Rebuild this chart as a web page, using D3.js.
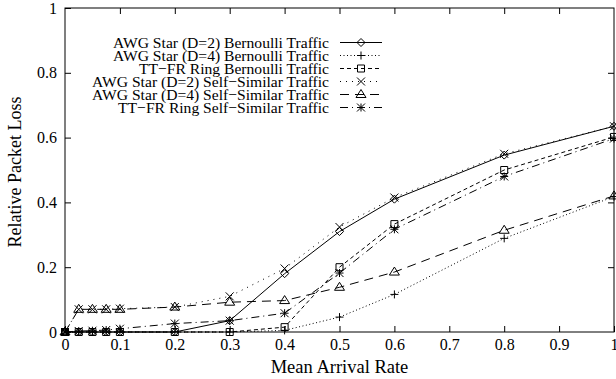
<!DOCTYPE html>
<html>
<head>
<meta charset="utf-8">
<script src="https://cdn.jsdelivr.net/npm/d3@7"></script>
<style>
  body { margin: 0; background: #fff; }
  svg { display: block; }
  text { font-family: "Liberation Serif", "DejaVu Serif", serif; fill: #000; }
</style>
</head>
<body>
<div id="chart"></div>
<script>
"use strict"

// Relative packet loss vs mean arrival rate

var rates = [0, 0.025, 0.05, 0.075, 0.1, 0.2, 0.3, 0.4, 0.5, 0.6, 0.8, 1.0]

var seriesNames = [
  "AWG Star (D=2) Bernoulli Traffic",
  "AWG Star (D=4) Bernoulli Traffic",
  "TT\u2212FR Ring Bernoulli Traffic",
  "AWG Star (D=2) Self\u2212Similar Traffic",
  "AWG Star (D=4) Self\u2212Similar Traffic",
  "TT\u2212FR Ring Self\u2212Similar Traffic"
]

var awg2Bern = [0, 0, 0, 0, 0, 0, 0.035, 0.18, 0.31, 0.41, 0.546, 0.635]
var awg4Bern = [0, 0, 0, 0, 0, 0, 0, 0.005, 0.046, 0.116, 0.289, 0.418]
var ringBern = [0, 0, 0, 0, 0, 0, 0, 0.015, 0.2, 0.333, 0.5, 0.602]
var awg2Self = [0, 0.07, 0.07, 0.07, 0.072, 0.077, 0.11, 0.196, 0.324, 0.415, 0.55, 0.635]
var awg4Self = [0, 0.07, 0.07, 0.07, 0.07, 0.077, 0.092, 0.097, 0.138, 0.185, 0.314, 0.42]
var ringSelf = [0, 0.003, 0.004, 0.006, 0.01, 0.026, 0.035, 0.058, 0.182, 0.317, 0.48, 0.597]

var xTicks = [0, 0.1, 0.2, 0.3, 0.4, 0.5, 0.6, 0.7, 0.8, 0.9, 1]
var yTicks = [0, 0.2, 0.4, 0.6, 0.8, 1]

var width = 616
var height = 379
var margin = {top: 8, right: 2, bottom: 47, left: 65}

var styles = [
  {dash: null, marker: "diamond"},
  {dash: "1,2.5", marker: "plus"},
  {dash: "4,3", marker: "square"},
  {dash: "1,5", marker: "cross"},
  {dash: "9,6", marker: "triangle"},
  {dash: "8,4,1,4", marker: "star"}
]

var allValues = [awg2Bern, awg4Bern, ringBern, awg2Self, awg4Self, ringSelf]

var x = d3.scaleLinear()
  .domain([0, 1])
  .range([margin.left, width - margin.right])

var y = d3.scaleLinear()
  .domain([0, 1])
  .range([height - margin.bottom, margin.top])

var svg = d3.select("#chart").append("svg")
  .attr("width", width)
  .attr("height", height)

// axes with mirrored ticks, gnuplot style
var tickLen = 6
svg.append("g")
  .attr("transform", "translate(0," + y(0) + ")")
  .call(d3.axisBottom(x).tickValues(xTicks).tickSizeInner(-tickLen).tickSizeOuter(0)
    .tickPadding(7).tickFormat(d3.format("")))
svg.append("g")
  .attr("transform", "translate(0," + y(1) + ")")
  .call(d3.axisTop(x).tickValues(xTicks.slice(1, -1)).tickSizeInner(-tickLen).tickSizeOuter(0)
    .tickFormat(""))
svg.append("g")
  .attr("transform", "translate(" + x(0) + ",0)")
  .call(d3.axisLeft(y).tickValues(yTicks).tickSizeInner(-tickLen).tickSizeOuter(0)
    .tickPadding(8).tickFormat(d3.format("")))
svg.append("g")
  .attr("transform", "translate(" + x(1) + ",0)")
  .call(d3.axisRight(y).tickValues(yTicks.slice(1, -1)).tickSizeInner(-tickLen).tickSizeOuter(0)
    .tickFormat(""))

svg.selectAll(".domain").remove()
svg.selectAll(".tick line").attr("stroke", "#000")
svg.selectAll(".tick text").style("font-size", "16px")

svg.append("rect")
  .attr("x", x(0))
  .attr("y", y(1))
  .attr("width", x(1) - x(0))
  .attr("height", y(0) - y(1))
  .attr("fill", "none")
  .attr("stroke", "#000")
  .attr("stroke-width", 1)

svg.append("text")
  .attr("x", (x(0) + x(1)) / 2)
  .attr("y", 373)
  .attr("text-anchor", "middle")
  .style("font-size", "18.5px")
  .text("Mean Arrival Rate")

svg.append("text")
  .attr("transform", "translate(21," + ((y(0) + y(1)) / 2 + 2) + ") rotate(-90)")
  .attr("text-anchor", "middle")
  .style("font-size", "18px")
  .text("Relative Packet Loss")

function drawMarker(g, type, cx, cy) {
  var s = 4
  var p = d3.path()
  if (type === "diamond") {
    p.moveTo(cx, cy - s); p.lineTo(cx + s, cy); p.lineTo(cx, cy + s); p.lineTo(cx - s, cy); p.closePath()
  } else if (type === "plus") {
    p.moveTo(cx - s, cy); p.lineTo(cx + s, cy); p.moveTo(cx, cy - s); p.lineTo(cx, cy + s)
  } else if (type === "square") {
    p.rect(cx - s + 0.5, cy - s + 0.5, 2 * s - 1, 2 * s - 1)
  } else if (type === "cross") {
    p.moveTo(cx - s, cy - s); p.lineTo(cx + s, cy + s); p.moveTo(cx - s, cy + s); p.lineTo(cx + s, cy - s)
  } else if (type === "triangle") {
    p.moveTo(cx, cy - s - 1); p.lineTo(cx + s + 1, cy + s - 1); p.lineTo(cx - s - 1, cy + s - 1); p.closePath()
  } else if (type === "star") {
    p.moveTo(cx - s, cy); p.lineTo(cx + s, cy); p.moveTo(cx, cy - s); p.lineTo(cx, cy + s)
    p.moveTo(cx - s, cy - s); p.lineTo(cx + s, cy + s); p.moveTo(cx - s, cy + s); p.lineTo(cx + s, cy - s)
  }
  g.append("path")
    .attr("d", p.toString())
    .attr("fill", "none")
    .attr("stroke", "#000")
    .attr("stroke-width", 1)
}

var line = d3.line()
  .x(function(d) { return x(d[0]) })
  .y(function(d) { return y(d[1]) })

allValues.forEach(function(vals, i) {
  var pts = rates.map(function(r, j) { return [r, vals[j]] })
  var g = svg.append("g").attr("class", "series")
  g.append("path")
    .datum(pts)
    .attr("d", line)
    .attr("fill", "none")
    .attr("stroke", "#000")
    .attr("stroke-width", 1)
    .attr("stroke-dasharray", styles[i].dash)
  pts.forEach(function(d) {
    drawMarker(g, styles[i].marker, x(d[0]), y(d[1]))
  })
})

// legend
var legend = svg.append("g")
seriesNames.forEach(function(name, i) {
  var ly = 42.5 + i * 13
  legend.append("text")
    .attr("x", 329)
    .attr("y", ly)
    .attr("dy", "0.33em")
    .attr("text-anchor", "end")
    .style("font-size", "15.6px")
    .text(name)
  legend.append("line")
    .attr("x1", 340).attr("x2", 382)
    .attr("y1", ly).attr("y2", ly)
    .attr("stroke", "#000")
    .attr("stroke-dasharray", styles[i].dash)
  drawMarker(legend, styles[i].marker, 361, ly)
})
</script>
</body>
</html>
